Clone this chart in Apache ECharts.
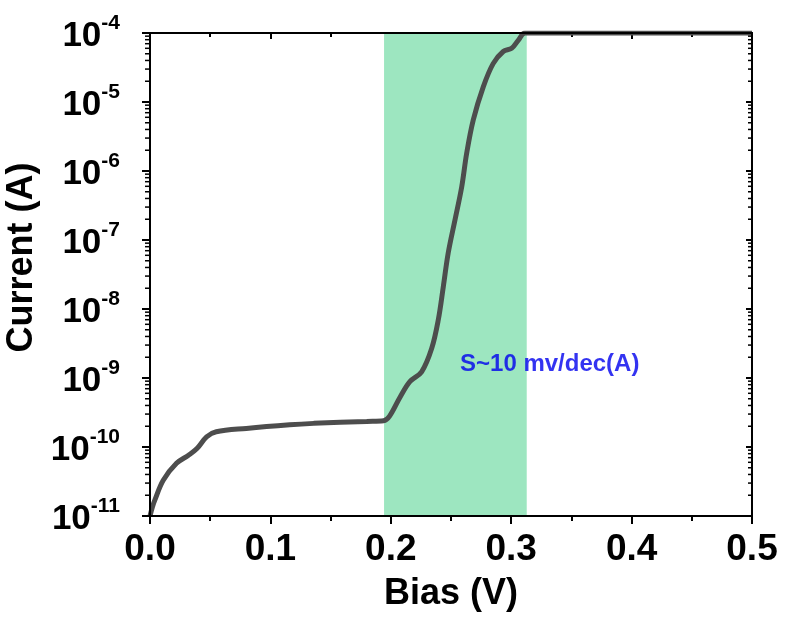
<!DOCTYPE html>
<html>
<head>
<meta charset="utf-8">
<script src="https://cdn.jsdelivr.net/npm/echarts@6/dist/echarts.min.js"></script>
<style>
html,body{margin:0;padding:0;background:#fff;}
#chart{width:785px;height:619px;}
</style>
</head>
<body>
<div id="chart"></div>
<script>
// Bias (V)
var biasV = [0, 0.002, 0.004, 0.011, 0.022, 0.032, 0.039, 0.047, 0.055, 0.080, 0.116, 0.136, 0.180, 0.194,
  0.199, 0.208, 0.216, 0.2256, 0.234, 0.2394, 0.2436, 0.2477, 0.2533, 0.2589, 0.263, 0.2685, 0.2768,
  0.285, 0.2934, 0.3004, 0.306, 0.3115, 0.35, 0.40, 0.45, 0.50];
// Current (A)
var currentA = [1.0e-11, 1.35e-11, 1.7e-11, 3.3e-11, 5.8e-11, 7.6e-11, 9.5e-11, 1.4e-10, 1.66e-10, 1.86e-10, 2.1e-10, 2.2e-10, 2.35e-10, 2.4e-10,
  2.8e-10, 5.4e-10, 8.9e-10, 1.23e-9, 2.7e-9, 6.9e-9, 2.1e-8, 6.5e-8, 1.95e-7, 5.9e-7, 1.8e-6, 5.5e-6, 1.66e-5,
  3.6e-5, 5.4e-5, 6.0e-5, 7.9e-5, 1.0e-4, 1.0e-4, 1.0e-4, 1.0e-4, 1.0e-4];
// highlighted window (V)
var bandRange = [0.1944, 0.3129];
// annotation
var annText = 'S~10 mv/dec(A)';
var annPos = [0.332, 1.55e-9];
// axis ranges / tick labels
var xTicks = ['0.0', '0.1', '0.2', '0.3', '0.4', '0.5'];
var yExponents = [-11, -10, -9, -8, -7, -6, -5, -4];

var eMin = yExponents[0], eMax = yExponents[yExponents.length - 1];
var yMin = Math.pow(10, eMin);
var yMax = Math.pow(10, eMax);
var minorY = [];
for (var e = eMin; e < eMax; e++) {
  for (var k = 2; k <= 9; k++) minorY.push(k * Math.pow(10, e));
}
var majorY = yExponents.map(function (ex) { return Math.pow(10, ex); });
var lineData = biasV.map(function (x, i) { return [x, currentA[i]]; });

var FONT = '"Liberation Sans", Arial, sans-serif';
var chart = echarts.init(document.getElementById('chart'));
var ylabel = function (v) {
  var ex = Math.round(Math.log10(v));
  return '{b|10}{s|' + ex + '}';
};
var tickStyle = { color: '#000', width: 2 };
chart.setOption({
  animation: false,
  backgroundColor: '#fff',
  grid: { left: 150, right: 33, top: 33, bottom: 103, outerBoundsMode: 'none', containLabel: false },
  xAxis: [{
    type: 'value', min: 0, max: 0.5, interval: 0.1, position: 'bottom',
    name: 'Bias (V)', nameLocation: 'middle', nameGap: 60,
    nameTextStyle: { fontSize: 36, fontWeight: 'bold', color: '#000', fontFamily: FONT },
    axisLine: { show: true, onZero: false, lineStyle: { color: '#000', width: 2 } },
    axisTick: { show: true, inside: false, length: 8, lineStyle: tickStyle },
    minorTick: { show: true, splitNumber: 2, length: 5, lineStyle: tickStyle },
    splitLine: { show: false },
    axisLabel: { fontSize: 37, fontWeight: 'bold', color: '#000', fontFamily: FONT, margin: 15,
      formatter: function (v) { return xTicks[Math.round(v * 10)]; } }
  }, {
    type: 'value', min: 0, max: 0.5, interval: 0.1, position: 'top',
    axisLine: { show: true, onZero: false, lineStyle: { color: '#000', width: 2 } },
    axisTick: { show: true, inside: true, length: 6, lineStyle: tickStyle },
    minorTick: { show: true, splitNumber: 2, length: 4, lineStyle: tickStyle },
    splitLine: { show: false }, axisLabel: { show: false }
  }],
  yAxis: [{
    type: 'log', logBase: 10, min: yMin, max: yMax, splitNumber: 7, position: 'left',
    name: 'Current (A)', nameLocation: 'middle', nameGap: 102, nameRotate: 90,
    nameTextStyle: { fontSize: 36, fontWeight: 'bold', color: '#000', fontFamily: FONT, padding: [0, 0, 0, 34] },
    axisLine: { show: true, onZero: false, lineStyle: { color: '#000', width: 2 } },
    axisTick: { show: true, inside: false, length: 8, lineStyle: tickStyle },
    splitLine: { show: false },
    axisLabel: { margin: 30, color: '#000', formatter: ylabel,
      rich: {
        b: { fontSize: 35, fontWeight: 'bold', color: '#000', fontFamily: FONT, padding: [6, 0, 0, 0] },
        s: { fontSize: 21, fontWeight: 'bold', color: '#000', fontFamily: FONT, verticalAlign: 'top' }
      } }
  }, {
    type: 'log', logBase: 10, min: yMin, max: yMax, splitNumber: 7, position: 'right',
    axisLine: { show: true, onZero: false, lineStyle: { color: '#000', width: 2 } },
    axisTick: { show: true, inside: true, length: 6, lineStyle: tickStyle },
    splitLine: { show: false }, axisLabel: { show: false }
  }],
  series: [{
    type: 'line', xAxisIndex: 0, yAxisIndex: 0, data: [], z: 1,
    markArea: { silent: true, itemStyle: { color: '#9de6c0', opacity: 1 },
      data: [[{ xAxis: bandRange[0] }, { xAxis: bandRange[1] }]] }
  }, {
    type: 'line', xAxisIndex: 0, yAxisIndex: 0, data: lineData, z: 3,
    symbol: 'none', smooth: 0.35,
    lineStyle: { color: '#4d4d4d', width: 5 }
  }, {
    type: 'scatter', xAxisIndex: 0, yAxisIndex: 0, data: [annPos], symbolSize: 0, z: 4,
    label: { show: true, position: 'inside', formatter: annText, fontSize: 24, fontWeight: 'bold',
      color: '#0000ee', fontFamily: FONT }
  }]
});
// frame and log ticks placed through the library's own scales
var xl = chart.convertToPixel({ xAxisIndex: 0 }, 0);
var xr = chart.convertToPixel({ xAxisIndex: 0 }, 0.5);
var yb = chart.convertToPixel({ yAxisIndex: 0 }, yMin);
var yt = chart.convertToPixel({ yAxisIndex: 0 }, yMax);
var gfx = [{ type: 'rect', z: 9, silent: true,
  shape: { x: xl, y: yt, width: xr - xl, height: yb - yt },
  style: { fill: null, stroke: '#000', lineWidth: 2 } }];
majorY.forEach(function (v) {
  var y = chart.convertToPixel({ yAxisIndex: 0 }, v);
  gfx.push({ type: 'line', z: 10, silent: true, shape: { x1: xl - 8, y1: y, x2: xl, y2: y }, style: { stroke: '#000', lineWidth: 2 } });
  gfx.push({ type: 'line', z: 10, silent: true, shape: { x1: xr - 6, y1: y, x2: xr, y2: y }, style: { stroke: '#000', lineWidth: 2 } });
});
minorY.forEach(function (v) {
  var y = chart.convertToPixel({ yAxisIndex: 0 }, v);
  gfx.push({ type: 'line', z: 10, silent: true, shape: { x1: xl - 5, y1: y, x2: xl, y2: y }, style: { stroke: '#000', lineWidth: 1.5 } });
  gfx.push({ type: 'line', z: 10, silent: true, shape: { x1: xr - 4, y1: y, x2: xr, y2: y }, style: { stroke: '#000', lineWidth: 1.5 } });
});
chart.setOption({ graphic: gfx });
</script>
</body>
</html>
